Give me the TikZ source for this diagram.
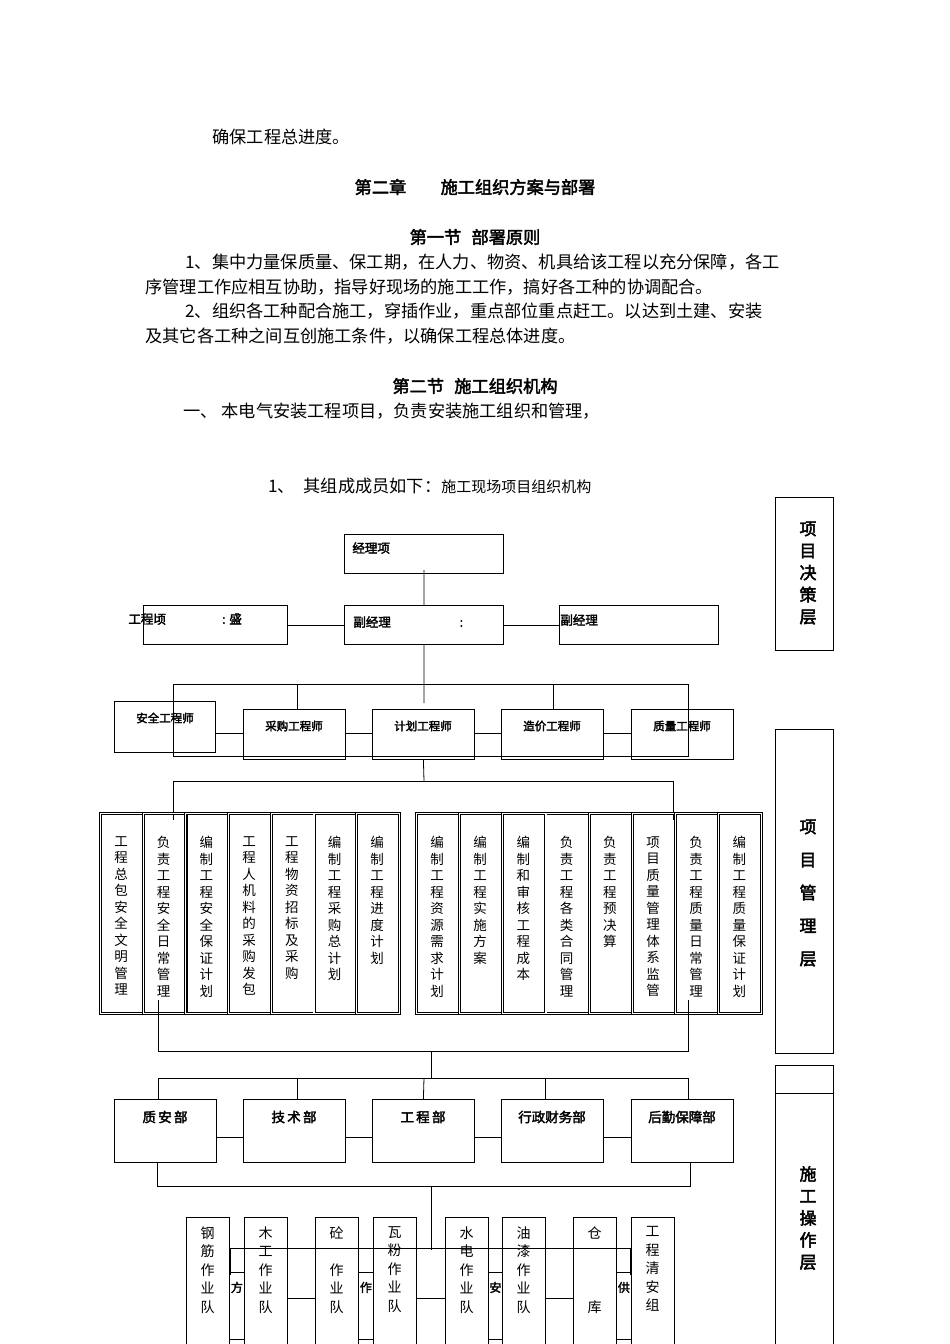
\documentclass[tikz,border=0pt]{standalone}
\usepackage{fontspec}
\usetikzlibrary{calc}
\setmainfont{Noto Sans CJK SC}[AutoFakeBold=2.5]
\begin{document}
\begin{tikzpicture}[x=1pt,y=-1pt,line width=0.8pt,
  bx/.style={draw,minimum width=#1,anchor=north west,inner sep=0},
  t/.style={anchor=west,inner sep=0,font=\fontsize{17.2}{19}\selectfont},
  s/.style={inner sep=0,font=\fontsize{11.5}{13}\selectfont\bfseries},
  col/.style={draw,double,double distance=1.2pt,anchor=north west,minimum width=43,minimum height=200,inner sep=0},
  ct/.style={anchor=north,inner sep=0,align=center,font=\fontsize{13.5}{16.5}\selectfont},
  bt/.style={anchor=north,inner sep=0,align=center,font=\fontsize{14}{18.5}\selectfont},
  sm/.style={inner sep=0,font=\fontsize{12.5}{14}\selectfont\bfseries}]
\useasboundingbox (0,0) rectangle (950,1344);
% text
\node[t] (l0) at (212,137) {确保工程总进度。};
\node[t,anchor=center,font=\fontsize{17.2}{19}\selectfont\bfseries] (h1) at (475,187) {第二章\hspace{2em}施工组织方案与部署};
\node[t,anchor=center,font=\fontsize{17.2}{19}\selectfont\bfseries] (h2) at (475,237) {第一节\hspace{0.6em}部署原则};
\node[t] (p1) at (185,262) {1、集中力量保质量、保工期，在人力、物资、机具给该工程以充分保障，各工};
\node[t] (p2) at (145,287) {序管理工作应相互协助，指导好现场的施工工作，搞好各工种的协调配合。};
\node[t] (p3) at (185,311) {2、组织各工种配合施工，穿插作业，重点部位重点赶工。以达到土建、安装};
\node[t] (p4) at (145,336) {及其它各工种之间互创施工条件，以确保工程总体进度。};
\node[t,anchor=center,font=\fontsize{17.2}{19}\selectfont\bfseries] (h3) at (475,386) {第二节\hspace{0.6em}施工组织机构};
\node[t] (p5) at (183,411) {一、 本电气安装工程项目，负责安装施工组织和管理，};
\node[t] (p6) at (268,486) {1、\hspace{0.5em}其组成成员如下：{\fontsize{15}{16}\selectfont 施工现场项目组织机构}};
% right labels
\node[bx=58,minimum height=153] (r1) at (775,497) {};
\node[font=\fontsize{17}{22}\selectfont\bfseries,align=center] (r1t) at (808,573) {项\\目\\决\\策\\层};
\node[bx=58,minimum height=324] (r2) at (775,729) {};
\node[font=\fontsize{17}{33}\selectfont\bfseries,align=center] (r2t) at (808,893) {项\\目\\管\\理\\层};
\node[bx=58,minimum height=290] (r3) at (775,1065) {};
\draw (r3.north west) ++(0,28) coordinate (r3a) -- ++(58,0) coordinate (r3b);
\node[font=\fontsize{17}{22}\selectfont\bfseries,align=center] (r3t) at (808,1218) {施\\工\\操\\作\\层};
% top
\node[bx=159,minimum height=39] (jl) at (344,534) {};
\node[sm,anchor=west] at (352,548) {经理项};
\node[bx=144,minimum height=39] (gc) at (143,605) {};
\node[sm,anchor=west] at (128,619) {工程顷\hspace{4.5em}: 盛};
\node[bx=159,minimum height=39] (fj) at (344,605) {};
\node[sm,anchor=west] at (353,622) {副经理\hspace{5.5em}:};
\node[bx=159,minimum height=39] (fj2) at (559,605) {};
\node[sm,anchor=west] at (560,620) {副经理};
\draw (424,570) -- (fj.north);
\draw (gc.east |- 0,625) -- (fj.west |- 0,625);
\draw (fj.east |- 0,625) -- (fj2.west |- 0,625);
\draw (fj.south) -- (424,703);
\draw (173,684) rectangle (688,756);
% engineers
\node[bx=101,minimum height=51] (e1) at (114,701) {};
\node[s] at (165,718) {安全工程师};
\foreach \n/\x/\l in {e2/243/采购工程师,e3/372/计划工程师,e4/501/造价工程师,e5/631/质量工程师}{
  \node[bx=102,minimum height=50] (\n) at (\x,709) {};
  \node[s] at (\x+51,726) {\l};}
\foreach \x in {297,553} \draw (\x,684) -- (\x,709);
\draw (e1.east |- 0,733) -- (e2.west |- 0,733);
\draw (e2.east |- 0,733) -- (e3.west |- 0,733);
\draw (e3.east |- 0,733) -- (e4.west |- 0,733);
\draw (e4.east |- 0,733) -- (e5.west |- 0,733);
\draw (e3.south) -- (424,781);
\draw (173,820) -- (173,781) -- (673,781) -- (673,820);
% columns
\foreach \i/\l in {0/工\\程\\总\\包\\安\\全\\文\\明\\管\\理,1/负\\责\\工\\程\\安\\全\\日\\常\\管\\理,2/编\\制\\工\\程\\安\\全\\保\\证\\计\\划,3/工\\程\\人\\机\\料\\的\\采\\购\\发\\包,4/工\\程\\物\\资\\招\\标\\及\\采\\购,5/编\\制\\工\\程\\采\\购\\总\\计\\划,6/编\\制\\工\\程\\进\\度\\计\\划}{
  \node[col] (a\i) at (100+42.7*\i,813) {};
  \node[ct] at (121+42.7*\i,836) {\l};}
\foreach \i/\l in {0/编\\制\\工\\程\\资\\源\\需\\求\\计\\划,1/编\\制\\工\\程\\实\\施\\方\\案,2/编\\制\\和\\审\\核\\工\\程\\成\\本,3/负\\责\\工\\程\\各\\类\\合\\同\\管\\理,4/负\\责\\工\\程\\预\\决\\算,5/项\\目\\质\\量\\管\\理\\体\\系\\监\\管,6/负\\责\\工\\程\\质\\量\\日\\常\\管\\理,7/编\\制\\工\\程\\质\\量\\保\\证\\计\\划}{
  \node[col] (b\i) at (416+43.2*\i,813) {};
  \node[ct] at (437+43.2*\i,836) {\l};}
\draw (158,1000) -- (158,1051) -- (688,1051) -- (688,1000);
\draw (431,1051) -- (431,1078);
\draw (158,1099) -- (158,1078) -- (688,1078) -- (688,1099);
\foreach \x in {297,545} \draw (\x,1078) -- (\x,1099);
% departments
\foreach \n/\x/\l in {d1/114/质\,安\,部,d2/243/技\,术\,部,d3/372/工\,程\,部,d4/501/行政财务部,d5/631/后勤保障部}{
  \node[bx=102,minimum height=63] (\n) at (\x,1099) {};
  \node[font=\fontsize{13.5}{15}\selectfont\bfseries,inner sep=0] at (\x+51,1117) {\l};}
\draw (424,1078) -- (d3.north);
\draw (d1.east |- 0,1137) -- (d2.west |- 0,1137);
\draw (d2.east |- 0,1137) -- (d3.west |- 0,1137);
\draw (d3.east |- 0,1137) -- (d4.west |- 0,1137);
\draw (d4.east |- 0,1137) -- (d5.west |- 0,1137);
\draw (157,1162) -- (157,1186) -- (690,1186) -- (690,1162);
\draw (431,1186) -- (431,1250);
% teams
\foreach \n/\x/\l in {g1/186/钢\\筋\\作\\业\\队,g2/244/木\\工\\作\\业\\队,g3/315/砼\\ \\作\\业\\队,g4/373/瓦\\粉\\作\\业\\队,g5/445/水\\电\\作\\业\\队,g6/502/油\\漆\\作\\业\\队,g7/573/仓\\ \\ \\ \\库,g8/631/工\\程\\清\\安\\组}{
  \node[bx=43,minimum height=140,anchor=north west] (\n) at (\x,1217) {};
  \node[bt] at (\x+21.5,1226) {\l};}
\draw (230,1275) -- (230,1248) -- (630,1248) -- (630,1275);
\draw (g2.east |- 0,1298) -- (g3.west |- 0,1298);
\draw (g4.east |- 0,1298) -- (g5.west |- 0,1298);
\draw (g6.east |- 0,1298) -- (g7.west |- 0,1298);
\draw (373,1217) -- (373,1245);
\draw (488,1230) -- (488,1260);
\foreach \a/\b/\l in {g1/g2/方,g3/g4/作,g5/g6/安,g7/g8/供}{
  \draw (\a.east |- 0,1272) -- (\b.west |- 0,1272);
  \draw (\a.east |- 0,1339) -- (\b.west |- 0,1339);
  \node[font=\fontsize{12}{14}\selectfont\bfseries,inner sep=0] at ($(\a.east)!0.5!(\b.west)$ |- 0,1293) {\l};}
\end{tikzpicture}
\end{document}
